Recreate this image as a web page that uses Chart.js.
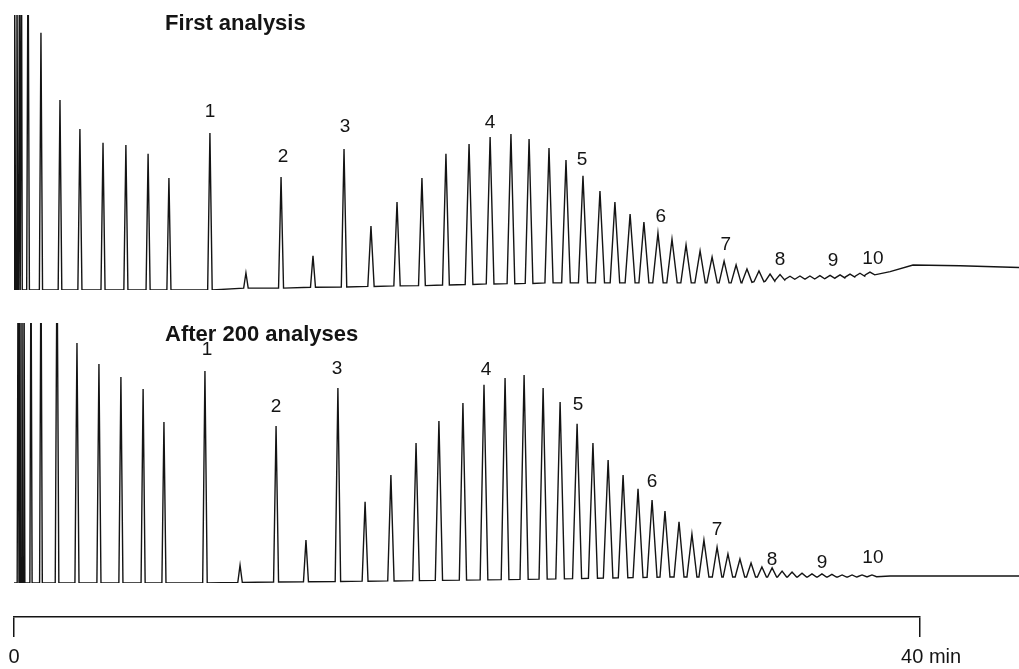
<!DOCTYPE html>
<html>
<head>
<meta charset="utf-8">
<script src="https://cdn.jsdelivr.net/npm/chart.js@4.4.1/dist/chart.umd.min.js"></script>
<style>
  html, body { margin: 0; padding: 0; background: #fff; overflow: hidden; }
  #wrap { position: relative; width: 1019px; height: 669px; overflow: hidden; }
  .panel { position: absolute; left: 0; }
  canvas { display: block; }
</style>
</head>
<body>
<div id="wrap">
  <div class="panel" style="top:0"><canvas id="first-trace" width="1019" height="300"></canvas></div>
  <div class="panel" style="top:300px"><canvas id="after-trace" width="1019" height="300"></canvas></div>
  <!-- tall canvas: chart.js caps an x axis at half the canvas height -->
  <div class="panel" style="top:500px"><canvas id="time-axis" width="1019" height="200"></canvas></div>
</div>
<script>
// retention time in min, detector response in % of full scale

// first analysis
const firstTimes = [0.04, 0.13, 0.24, 0.33, 0.62, 1.19, 2.03, 2.91, 3.93, 4.94, 5.92, 6.84, 8.65, 10.24, 11.79, 13.20, 14.57,
  15.76, 16.91, 18.01, 19.07, 20.09, 21.02, 21.94, 22.74, 23.62, 24.37, 25.12, 25.87, 26.53, 27.20, 27.81, 28.43, 29.05,
  29.67, 30.29, 30.82, 31.35, 31.88, 32.36, 32.89, 33.38, 33.82, 34.26, 34.70, 35.14, 35.58, 36.03, 36.47, 36.91, 37.35, 37.79];
const firstHeights = [130, 130, 130, 130, 130, 93.5, 69.1, 58.5, 53.5, 52.7, 49.5, 40.7, 57.1, 6.2, 41.1, 12.4, 51.3,
  23.3, 32.0, 40.7, 49.5, 53.1, 55.6, 56.7, 54.9, 51.6, 47.3, 41.5, 36.0, 32.0, 27.6, 24.7, 20.7, 18.5,
  16.4, 14.2, 12.0, 10.5, 9.1, 7.6, 6.9, 5.8, 5.6, 5.0, 5.1, 5.1, 5.2, 5.3, 5.5, 5.8, 6.1, 6.5];
const firstBases = [0, 0, 0, 0, 0, 0, 0, 0, 0, 0, 0, 0, 0, 0.7, 0.7, 1.0, 1.1,
  1.3, 1.5, 1.6, 1.8, 2.0, 2.2, 2.3, 2.4, 2.6, 2.6, 2.6, 2.6, 2.6, 2.6, 2.6, 2.6, 2.6,
  2.6, 2.6, 2.6, 2.6, 2.6, 2.8, 3.0, 3.2, 3.6, 3.9, 4.0, 4.0, 4.1, 4.2, 4.4, 4.7, 5.0, 5.5];
const firstWidths = [0.035, 0.035, 0.035, 0.035, 0.06, 0.07, 0.08, 0.09, 0.09, 0.09, 0.09, 0.09, 0.1, 0.1, 0.11, 0.11, 0.12,
  0.14, 0.14, 0.15, 0.15, 0.17, 0.17, 0.17, 0.17, 0.18, 0.19, 0.2, 0.2, 0.21, 0.22, 0.22, 0.23, 0.23,
  0.23, 0.23, 0.23, 0.22, 0.22, 0.22, 0.22, 0.21, 0.21, 0.21, 0.21, 0.21, 0.21, 0.21, 0.21, 0.21, 0.21, 0.21];
const firstTailTimes = [38.68, 39.69, 41.77, 44.37];
const firstTailValues = [6.7, 9.1, 8.8, 8.2];
const firstLabels = ['1', '2', '3', '4', '5', '6', '7', '8', '9', '10'];
const firstLabelTimes = [8.65, 11.88, 14.61, 21.02, 25.08, 28.56, 31.43, 33.82, 36.16, 37.92];
const firstLabelValues = [64.7, 48.4, 59.3, 60.7, 47.3, 26.5, 16.4, 10.9, 10.5, 11.3];

// after 200 analyses
const afterTimes = [0.18, 0.26, 0.35, 0.44, 0.75, 1.19, 1.90, 2.78, 3.75, 4.72, 5.70, 6.62, 8.43, 9.98, 11.57, 12.89, 14.30,
  15.50, 16.64, 17.75, 18.76, 19.82, 20.75, 21.68, 22.52, 23.36, 24.11, 24.86, 25.56, 26.23, 26.89, 27.55, 28.17, 28.74,
  29.36, 29.93, 30.46, 31.04, 31.52, 32.05, 32.54, 33.02, 33.47, 33.91, 34.35, 34.79, 35.23, 35.67, 36.11, 36.56, 37.00, 37.44, 37.88];
const afterHeights = [130, 130, 130, 130, 130, 130, 130, 92.3, 84.2, 79.2, 74.6, 61.9, 81.5, 6.9, 60.4, 16.5, 75.0,
  31.2, 41.5, 53.8, 62.3, 69.2, 76.2, 78.8, 80.0, 75.0, 69.6, 61.2, 53.8, 47.3, 41.5, 36.2, 31.9, 27.7,
  23.5, 18.8, 16.5, 13.8, 11.2, 9.2, 7.7, 6.2, 5.8, 4.6, 4.2, 3.8, 3.5, 3.5, 3.3, 3.1, 3.1, 3.1, 3.1];
const afterBases = [0, 0, 0, 0, 0, 0, 0, 0, 0, 0, 0, 0, 0, 0.2, 0.4, 0.5, 0.6,
  0.7, 0.8, 0.9, 1.0, 1.1, 1.2, 1.3, 1.4, 1.5, 1.6, 1.7, 1.8, 1.9, 2.0, 2.1, 2.2, 2.3,
  2.3, 2.3, 2.3, 2.3, 2.3, 2.3, 2.3, 2.3, 2.3, 2.3, 2.3, 2.3, 2.3, 2.3, 2.3, 2.3, 2.3, 2.4, 2.4];
const afterWidths = [0.04, 0.03, 0.03, 0.04, 0.05, 0.06, 0.08, 0.09, 0.09, 0.09, 0.09, 0.09, 0.1, 0.1, 0.11, 0.11, 0.12,
  0.13, 0.14, 0.15, 0.16, 0.16, 0.17, 0.17, 0.18, 0.18, 0.19, 0.2, 0.2, 0.21, 0.21, 0.22, 0.22, 0.22,
  0.22, 0.22, 0.22, 0.21, 0.21, 0.21, 0.2, 0.2, 0.2, 0.2, 0.2, 0.2, 0.2, 0.2, 0.2, 0.2, 0.2, 0.2, 0.2];
const afterTailTimes = [38.68, 44.37];
const afterTailValues = [2.7, 2.7];
const afterLabels = ['1', '2', '3', '4', '5', '6', '7', '8', '9', '10'];
const afterLabelTimes = [8.52, 11.57, 14.26, 20.84, 24.90, 28.17, 31.04, 33.47, 35.67, 37.92];
const afterLabelValues = [89.6, 67.7, 82.3, 81.9, 68.5, 38.8, 20.4, 8.8, 7.7, 9.6];

// time bar
const axisTicks = [0, 40];
const axisTickLabels = ['0', '40 min'];

const FONT = '"Liberation Sans", Arial, Helvetica, sans-serif';
const INK = '#141414';

// peak = foot, apex, foot
const buildTrace = (times, heights, bases, widths, tailTimes, tailValues) => {
  const points = [{ x: 0, y: bases[0] }];
  times.forEach((t, i) => {
    points.push({ x: t - widths[i], y: bases[i] });
    points.push({ x: t, y: heights[i] });
    points.push({ x: t + widths[i], y: bases[i] });
  });
  tailTimes.forEach((t, i) => points.push({ x: t, y: tailValues[i] }));
  return points;
};

const peakLabelPlugin = {
  id: 'peakLabels',
  afterDatasetsDraw(chart, args, opts) {
    const { ctx } = chart;
    const xs = chart.scales.x;
    const ys = chart.scales.y;
    ctx.save();
    ctx.fillStyle = INK;
    ctx.textBaseline = 'middle';
    ctx.textAlign = 'center';
    ctx.font = `19px ${FONT}`;
    opts.texts.forEach((txt, i) => {
      ctx.fillText(txt, xs.getPixelForValue(opts.times[i]), ys.getPixelForValue(opts.values[i]));
    });
    ctx.textAlign = 'left';
    ctx.font = `bold 22px ${FONT}`;
    ctx.fillText(opts.title, xs.getPixelForValue(opts.titleAt[0]), ys.getPixelForValue(opts.titleAt[1]));
    ctx.restore();
  }
};

const traceChart = (canvasId, points, labels, padding) => new Chart(document.getElementById(canvasId), {
  type: 'line',
  data: {
    datasets: [{
      data: points,
      borderColor: INK,
      borderWidth: 1.4,
      pointRadius: 0,
      tension: 0,
      fill: false
    }]
  },
  options: {
    responsive: false,
    animation: false,
    devicePixelRatio: 1,
    layout: { padding: padding },
    scales: {
      x: { type: 'linear', min: 0, max: 44.37, display: false },
      y: { min: 0, max: 100, display: false }
    },
    plugins: {
      legend: { display: false },
      tooltip: { enabled: false },
      peakLabels: labels
    }
  },
  plugins: [peakLabelPlugin]
});

traceChart('first-trace',
  buildTrace(firstTimes, firstHeights, firstBases, firstWidths, firstTailTimes, firstTailValues),
  { texts: firstLabels, times: firstLabelTimes, values: firstLabelValues, title: 'First analysis', titleAt: [6.67, 96.7] },
  { top: 15, bottom: 10, left: 14, right: 0 });

traceChart('after-trace',
  buildTrace(afterTimes, afterHeights, afterBases, afterWidths, afterTailTimes, afterTailValues),
  { texts: afterLabels, times: afterLabelTimes, values: afterLabelValues, title: 'After 200 analyses', titleAt: [6.67, 95.4] },
  { top: 23, bottom: 17, left: 14, right: 0 });

// chart area bottom = bar at y 617 of the page (117 in this canvas)
new Chart(document.getElementById('time-axis'), {
  type: 'line',
  data: { datasets: [] },
  options: {
    responsive: false,
    animation: false,
    devicePixelRatio: 1,
    layout: { padding: { top: 10, bottom: 23, left: 14, right: 99 } },
    scales: {
      x: {
        type: 'linear',
        min: 0,
        max: 40,
        afterBuildTicks: axis => { axis.ticks = axisTicks.map(v => ({ value: v })); },
        grid: { drawOnChartArea: false, drawTicks: true, tickLength: 20, color: INK, lineWidth: 1.5 },
        border: { display: true, color: INK, width: 1.5 },
        ticks: {
          padding: 8,
          color: INK,
          font: { family: FONT, size: 20 },
          // "40 min" sits a little right of its tick
          callback: value => value === 40 ? '\u00a0\u00a0\u00a0\u00a0' + axisTickLabels[1] : axisTickLabels[0]
        }
      },
      y: { display: false, min: 0, max: 1 }
    },
    plugins: { legend: { display: false }, tooltip: { enabled: false } }
  }
});
</script>
</body>
</html>
